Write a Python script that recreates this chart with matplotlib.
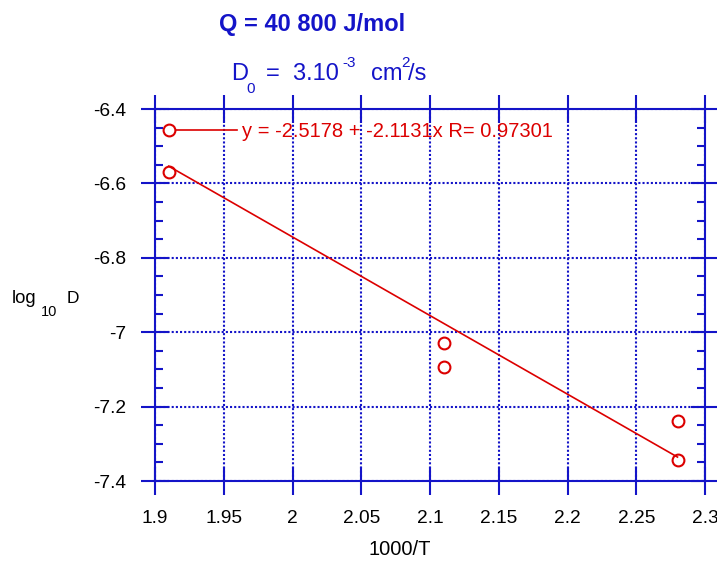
import numpy as np
from matplotlib import pyplot as plt
from matplotlib.ticker import MultipleLocator, FormatStrFormatter
from matplotlib.lines import Line2D
from matplotlib.legend_handler import HandlerLine2D

plt.rcParams['font.family'] = ['Liberation Sans', 'DejaVu Sans']
plt.rcParams['axes.unicode_minus'] = False

# data
inv_T = [1.91, 2.11, 2.11, 2.28, 2.28]
log_D = [-6.57, -7.03, -7.094, -7.239, -7.344]
# fit given in the legend
fit_a = -2.5178
fit_b = -2.1131
fit_r = 0.97301

blue = '#1414c8'
red = '#dc0000'
W, H = 717, 561


class MarkLeftHandler(HandlerLine2D):
    # circle at the left end of the line, like the original program does
    def create_artists(self, legend, orig_handle, xdescent, ydescent, width, height,
                       fontsize, trans):
        y = height / 2 - ydescent
        x0 = -xdescent
        line = Line2D([x0, x0 + width], [y, y], color=red, lw=1.2)
        mark = Line2D([x0], [y], ls='none', marker='o', mfc='white', mec=red, mew=1.5, ms=8.5)
        line.set_transform(trans)
        mark.set_transform(trans)
        return [line, mark]


def ftext(x, y, s, color=blue, **kw):
    # place a text by pixel position from the top-left corner
    fig.text(x / W, 1 - y / H, s, color=color, va='baseline', **kw)


fig = plt.figure(figsize=(W / 100, H / 100), dpi=100)
ax = fig.add_axes([155 / W, 1 - 481 / H, 550 / W, 372 / H])

xs = np.array([min(inv_T), max(inv_T)])
ax.plot(xs, fit_a + fit_b * xs, color=red, lw=1.2, zorder=3)
ax.plot(inv_T, log_D, 'o', mfc='none', mec=red, mew=1.5, ms=8.5, zorder=4)

ax.set_xlim(1.9, 2.3)
ax.set_ylim(-7.4, -6.4)
ax.xaxis.set_major_locator(MultipleLocator(0.05))
ax.yaxis.set_major_locator(MultipleLocator(0.2))
ax.yaxis.set_minor_locator(MultipleLocator(0.05))
ax.xaxis.set_major_formatter(FormatStrFormatter('%g'))
ax.yaxis.set_major_formatter(FormatStrFormatter('%g'))

ax.tick_params(which='major', direction='inout', length=20, width=1.5, color=blue,
               top=True, right=True, labelsize=13.8)
ax.tick_params(axis='x', which='major', pad=11)
ax.tick_params(axis='y', which='major', pad=11)
ax.tick_params(which='minor', direction='in', length=6, width=1.5, color=blue,
               left=True, right=True)
for s in ax.spines.values():
    s.set_color(blue)
    s.set_linewidth(1.5)

ax.grid(True, which='major', color=blue, ls=(0, (1, 1)), lw=1.5)

h = Line2D([], [], color=red)
leg = ax.legend([h], ['y = %.4f + %.4fx R= %.5f' % (fit_a, fit_b, fit_r)],
                handler_map={Line2D: MarkLeftHandler()},
                loc='upper left', bbox_to_anchor=(0.0, 1.003), frameon=False,
                handlelength=3.35, handletextpad=0.25, borderpad=0.3,
                borderaxespad=0.41, fontsize=14.5)
for t in leg.get_texts():
    t.set_color(red)

# axis titles
fig.text(400 / W, 0.003, '1000/T', fontsize=14.5, ha='center', va='bottom')
ftext(12, 303, 'log', color='black', fontsize=13.3)
ftext(41, 316, '10', color='black', fontsize=10.5)
ftext(67, 303, 'D', color='black', fontsize=12.5)

# headings
ftext(312, 31, 'Q = 40 800 J/mol', fontsize=17, fontweight='bold', ha='center')
ftext(231, 80, 'D', fontsize=17)
ftext(246, 93, '0', fontsize=11)
ftext(266, 80, '=  3.10', fontsize=17)
ftext(342, 67, '-3', fontsize=11)
ftext(371, 80, 'cm', fontsize=17)
ftext(401, 67, '2', fontsize=11)
ftext(408, 80, '/s', fontsize=17)

fig.savefig('out.png', dpi=100)
